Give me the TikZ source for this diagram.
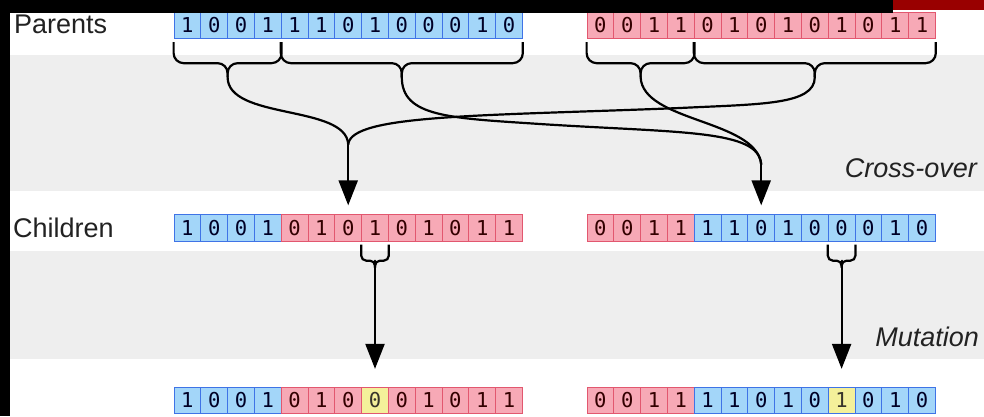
\documentclass[tikz,border=0pt]{standalone}
\usepackage{fontspec}
\setmainfont{Liberation Sans}
\newfontfamily\bitfont{DejaVu Sans Mono}
\definecolor{bandgray}{HTML}{EEEEEE}
\definecolor{bitblue}{HTML}{A3D6F9}
\definecolor{bitblueline}{HTML}{3F73E6}
\definecolor{bitred}{HTML}{F7A9B6}
\definecolor{bitredline}{HTML}{E2576F}
\definecolor{bityellow}{HTML}{F4F09A}
\definecolor{tabred}{HTML}{990000}
\definecolor{inkgray}{HTML}{222222}
\usetikzlibrary{%
    calc,
    math,
    arrows.meta
}

\begin{document}
\begin{tikzpicture}[x=1pt, y=-1pt, line width=2.2pt,
    cell/.style={draw, line width=0.8pt, minimum width=26.8pt, minimum height=26.5pt, inner sep=0pt,
        font=\bitfont\fontsize{20.5}{20.5}\selectfont},
    bluecell/.style={cell, fill=bitblue, draw=bitblueline, text=black!85!blue},
    redcell/.style={cell, fill=bitred, draw=bitredline, text=black!80!red},
    yellowcell/.style={cell, fill=bityellow, text=black!80!olive},
    link/.style={line width=2.2pt, line cap=round},
    tip/.style={-{Triangle[length=25pt, width=19pt]}},
    gbrace/.style={line width=2.2pt, rounded corners=10pt},
    lbl/.style={font=\fontsize{27}{30}\selectfont, text=inkgray, inner sep=0pt},
    stage/.style={lbl, font=\fontsize{27}{30}\selectfont\itshape}]
    \tikzmath{%
        \w=26.8;       % 格子宽
        \xa=174+\w/2;  % 左串第一格
        \xb=587+\w/2;  % 右串第一格
        \yp=25.5;      % 父代
        \yc=228;       % 子代
        \ym=400.5;     % 变异后
    };

    \useasboundingbox (0,0) rectangle (984,416);
    \fill [white] (0,0) rectangle (984,416);
    % 灰色条带
    \fill [bandgray] (10,55) rectangle (984,191);
    \fill [bandgray] (10,251) rectangle (984,359);

    % 父代
    \foreach \b [count=\i from 0] in {1,0,0,1,1,1,0,1,0,0,0,1,0}
        \node [bluecell] (pa\i) at ({\xa+\i*\w}, \yp) {\b};
    \foreach \b [count=\i from 0] in {0,0,1,1,0,1,0,1,0,1,0,1,1}
        \node [redcell] (pb\i) at ({\xb+\i*\w}, \yp) {\b};

    % 子代
    \foreach \b [count=\i from 0] in {1,0,0,1}
        \node [bluecell] (ca\i) at ({\xa+\i*\w}, \yc) {\b};
    \foreach \b [count=\i from 4] in {0,1,0,1,0,1,0,1,1}
        \node [redcell] (ca\i) at ({\xa+\i*\w}, \yc) {\b};
    \foreach \b [count=\i from 0] in {0,0,1,1}
        \node [redcell] (cb\i) at ({\xb+\i*\w}, \yc) {\b};
    \foreach \b [count=\i from 4] in {1,1,0,1,0,0,0,1,0}
        \node [bluecell] (cb\i) at ({\xb+\i*\w}, \yc) {\b};

    % 变异后
    \foreach \b [count=\i from 0] in {1,0,0,1}
        \node [bluecell] (ma\i) at ({\xa+\i*\w}, \ym) {\b};
    \foreach \b [count=\i from 4] in {0,1,0}
        \node [redcell] (ma\i) at ({\xa+\i*\w}, \ym) {\b};
    \node [yellowcell, draw=bitredline] (ma7) at ({\xa+7*\w}, \ym) {0};
    \foreach \b [count=\i from 8] in {0,1,0,1,1}
        \node [redcell] (ma\i) at ({\xa+\i*\w}, \ym) {\b};
    \foreach \b [count=\i from 0] in {0,0,1,1}
        \node [redcell] (mb\i) at ({\xb+\i*\w}, \ym) {\b};
    \foreach \b [count=\i from 4] in {1,1,0,1,0}
        \node [bluecell] (mb\i) at ({\xb+\i*\w}, \ym) {\b};
    \node [yellowcell, draw=bitblueline] (mb9) at ({\xb+9*\w}, \ym) {1};
    \foreach \b [count=\i from 10] in {0,1,0}
        \node [bluecell] (mb\i) at ({\xb+\i*\w}, \ym) {\b};

    % 括号
    \foreach \rw/\ca/\cb/\tp in {pa/0/3/tA, pa/4/12/tB, pb/0/3/tC, pb/4/12/tD} {%
            \coordinate (\tp) at ($(\rw\ca.south west)!0.5!(\rw\cb.south east)+(0,38)$);
            \draw [gbrace] ([yshift=-3pt]\rw\ca.south west) |- ($(\tp)+(0,-14)$) -- (\tp);
            \draw [gbrace] ([yshift=-3pt]\rw\cb.south east) |- ($(\tp)+(0,-14)$) -- (\tp);
        }
    \foreach \rw/\c/\tp in {ca/7/tM, cb/9/tN} {%
            \coordinate (\tp) at ($(\rw\c.south)+(0,19)$);
            \draw [gbrace, rounded corners=5pt] ([yshift=-3pt]\rw\c.south west) |- (\tp) -- ++(0,7);
            \draw [gbrace, rounded corners=5pt] ([yshift=-3pt]\rw\c.south east) |- (\tp) -- ++(0,7);
        }

    % 交叉
    \coordinate (m1) at ($(ca6.north)+(0,-70)$);
    \coordinate (m2) at ($(cb6.north)+(0,-50)$);
    \draw [link] (tA) .. controls +(0,43) and +(-2,-40) .. (m1);
    \draw [link] (tD) .. controls +(0,28) and +(80,-4) .. (680,108) .. controls +(-200,8) and +(3,-30) .. (m1);
    \draw [link] (tB) .. controls +(0,40) and +(-90,-6) .. (540,124) .. controls +(140,9) and +(-2,-35) .. (m2);
    \draw [link] (tC) .. controls +(2,45) and +(-5,-45) .. (m2);
    \draw [link, tip, shorten >=9pt] (m1) -- (ca6.north);
    \draw [link, tip, shorten >=9pt] (m2) -- (cb6.north);

    % 变异
    \draw [link, tip, shorten >=18pt] (tM) -- (ma7.north);
    \draw [link, tip, shorten >=18pt] (tN) -- (mb9.north);

    % 文字
    \node [lbl, anchor=west] (parents) at (13,24) {Parents};
    \node [lbl, anchor=west] (children) at (12,228) {Children};
    \node [stage, anchor=east] (crossover) at (978,168.5) {Cross-over};
    \node [stage, anchor=east] (mutation) at (980,337) {Mutation};

    % 边框
    \fill [black] (0,0) rectangle (10,416);
    \fill [black] (0,0) rectangle (893,12.5);
    \fill [tabred] (893,0) rectangle (984,10);
\end{tikzpicture}
\end{document}
